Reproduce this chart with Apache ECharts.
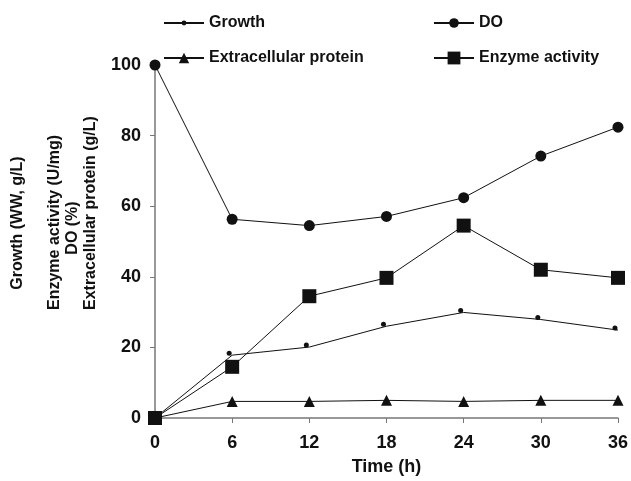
<!DOCTYPE html>
<html>
<head>
<meta charset="utf-8">
<script src="https://cdn.jsdelivr.net/npm/echarts@6/dist/echarts.min.js"></script>
<style>
  html, body { margin: 0; padding: 0; background: #fff; }
  #chart { width: 631px; height: 481px; }
</style>
</head>
<body>
<div id="chart"></div>
<script>
// data
const hours = [0, 6, 12, 18, 24, 30, 36];
const growth = [0, 17.8, 20.1, 26.0, 29.9, 27.9, 24.9];
const dissolvedO2 = [100, 56.3, 54.5, 57.1, 62.4, 74.2, 82.4];
const extraProtein = [0, 4.7, 4.7, 5.0, 4.7, 5.0, 5.0];
const enzymeActivity = [0, 14.5, 34.5, 39.7, 54.5, 42.0, 39.7];
const yTicks = [0, 20, 40, 60, 80, 100];

const INK = '#111';
const AXIS = '#777';
const FONT = '"Liberation Sans", Arial, sans-serif';

const pairs = ys => hours.map((h, i) => [h, ys[i]]);

const lineSeries = (name, ys, symbol, size, extra) => Object.assign({
  name, type: 'line', data: pairs(ys),
  symbol, symbolSize: size,
  lineStyle: { color: INK, width: 1 },
  itemStyle: { color: INK },
  clip: false, animation: false
}, extra || {});

// one legend per entry so each icon keeps its own marker size
const legendItem = (name, left, top, h) => ({
  left, top, itemWidth: 40, itemHeight: h, padding: 0, itemGap: 0,
  data: [name],
  textStyle: { color: INK, fontSize: 16, fontWeight: 'bold', fontFamily: FONT }
});

// rotated axis titles
const vText = (text, x, y, align) => ({
  type: 'text', x, y, rotation: Math.PI / 2,
  style: { text, fill: INK, font: 'bold 16px ' + FONT, align, verticalAlign: 'middle' }
});

const chart = echarts.init(document.getElementById('chart'));
chart.setOption({
  backgroundColor: '#fff',
  textStyle: { fontFamily: FONT },
  grid: { left: 155, right: 11, top: 65, bottom: 63 },
  legend: [
    legendItem('Growth', 163, 15, 6),
    legendItem('Extracellular protein', 163, 50, 13),
    legendItem('DO', 433, 15, 12),
    legendItem('Enzyme activity', 433, 50, 16)
  ],
  xAxis: {
    type: 'value', min: 0, max: 36, interval: 6,
    name: 'Time (h)', nameLocation: 'middle', nameGap: 40,
    nameTextStyle: { color: INK, fontSize: 18, fontWeight: 'bold', fontFamily: FONT },
    axisLine: { lineStyle: { color: AXIS, width: 1.5 } },
    axisTick: { length: 5, lineStyle: { color: AXIS } },
    axisLabel: { color: INK, fontSize: 18, fontWeight: 'bold', margin: 16, fontFamily: FONT },
    splitLine: { show: false }
  },
  yAxis: {
    type: 'value', min: yTicks[0], max: yTicks[yTicks.length - 1], interval: 20,
    axisLine: { show: true, lineStyle: { color: AXIS, width: 1.5 } },
    axisTick: { show: true, length: 5, lineStyle: { color: AXIS } },
    axisLabel: { color: INK, fontSize: 18, fontWeight: 'bold', margin: 14, fontFamily: FONT },
    splitLine: { show: false }
  },
  graphic: [
    vText('Growth (WW, g/L)', 18, 223, 'center'),
    vText('Enzyme activity (U/mg)', 55, 310, 'left'),
    vText('DO (%)', 73, 228, 'center'),
    vText('Extracellular protein (g/L)', 91, 310, 'left')
  ],
  series: [
    lineSeries('Growth', growth, 'circle', 5, { symbolOffset: [-3, -2] }),
    lineSeries('DO', dissolvedO2, 'circle', 11),
    lineSeries('Extracellular protein', extraProtein, 'triangle', 11),
    lineSeries('Enzyme activity', enzymeActivity, 'rect', 14)
  ]
});
</script>
</body>
</html>
